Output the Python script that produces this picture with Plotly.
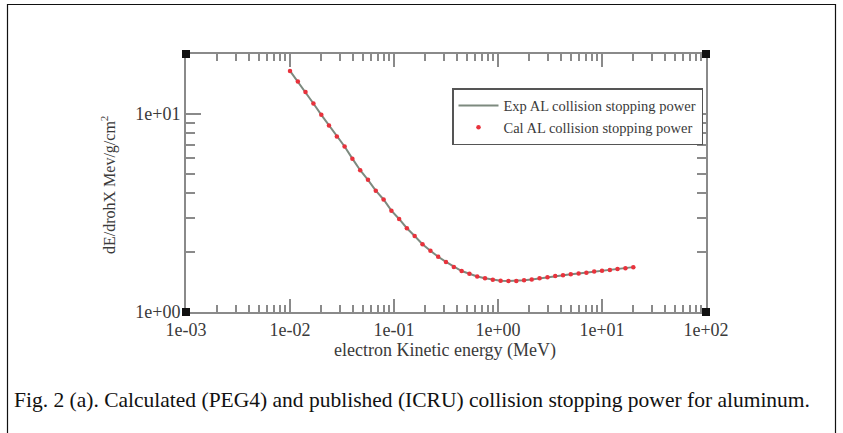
import plotly.graph_objects as go

# ---- data ----
energy_mev = [0.01, 0.0119, 0.0141, 0.0168, 0.02, 0.0237, 0.0282, 0.0335, 0.0398, 0.0473,
              0.0562, 0.0668, 0.0794, 0.0944, 0.112, 0.133, 0.158, 0.188, 0.224, 0.266,
              0.316, 0.376, 0.447, 0.531, 0.631, 0.75, 0.891, 1.06, 1.26, 1.5,
              1.78, 2.11, 2.51, 2.99, 3.55, 4.22, 5.01, 5.96, 7.08, 8.41,
              10.0, 11.9, 14.1, 16.8, 20.0]
exp_power = [16.5, 14.6, 12.9, 11.3, 9.9, 8.75, 7.7, 6.85, 5.95, 5.2,
             4.65, 4.1, 3.7, 3.25, 2.95, 2.65, 2.42, 2.2, 2.04, 1.9,
             1.79, 1.69, 1.61, 1.56, 1.51, 1.48, 1.455, 1.44, 1.435, 1.435,
             1.445, 1.46, 1.48, 1.50, 1.52, 1.535, 1.55, 1.565, 1.58, 1.60,
             1.615, 1.63, 1.65, 1.665, 1.685]
cal_power = [16.5, 14.6, 12.9, 11.3, 9.9, 8.75, 7.7, 6.85, 5.95, 5.2,
             4.65, 4.1, 3.7, 3.25, 2.95, 2.65, 2.42, 2.2, 2.04, 1.9,
             1.79, 1.69, 1.61, 1.56, 1.51, 1.48, 1.455, 1.44, 1.435, 1.435,
             1.445, 1.46, 1.48, 1.50, 1.52, 1.535, 1.55, 1.565, 1.58, 1.60,
             1.615, 1.63, 1.65, 1.665, 1.685]

x_tick_vals = [1e-3, 1e-2, 1e-1, 1e0, 1e1, 1e2]
x_tick_text = ["1e-03", "1e-02", "1e-01", "1e+00", "1e+01", "1e+02"]
y_tick_vals = [1, 10]
y_tick_text = ["1e+00", "1e+01"]

series_names = ["Exp AL collision stopping power", "Cal AL collision stopping power"]
x_title = "electron Kinetic energy (MeV)"
y_title = "dE/drohX Mev/g/cm<sup>2</sup>"
caption = "Fig. 2 (a). Calculated (PEG4) and published (ICRU) collision stopping power for aluminum."

# ---- figure ----
W, H = 843, 433
L, R, T, B = 186, 706, 54, 312  # plot area in pixels
pw, ph = R - L, B - T


def px(x):
    return (x - L) / pw


def py(y):
    return (B - y) / ph


SERIF = "Liberation Serif, Times New Roman, serif"
TXT = "#3a3a3a"
AX = "#8a8a8a"

fig = go.Figure()
fig.add_trace(go.Scatter(x=energy_mev, y=exp_power, mode="lines", name=series_names[0],
                         line=dict(color="#7d8a7f", width=2)))
fig.add_trace(go.Scatter(x=energy_mev, y=cal_power, mode="markers", name=series_names[1],
                         marker=dict(color="#e8323c", size=4.5)))

axis_common = dict(type="log", showgrid=False, zeroline=False, showline=True,
                   linecolor=AX, linewidth=2, mirror="allticks", ticks="inside",
                   tickcolor=AX, tickwidth=2,
                   tickfont=dict(family=SERIF, size=18, color=TXT))

fig.update_xaxes(range=[-3, 2], tickvals=x_tick_vals, ticktext=x_tick_text, ticklen=13,
                 minor=dict(ticks="inside", ticklen=7, tickcolor=AX, tickwidth=1.5, dtick="D1"),
                 **axis_common)
fig.update_yaxes(range=[0, 1.303], tickvals=y_tick_vals, ticktext=y_tick_text, ticklen=15,
                 minor=dict(ticks="inside", ticklen=9, tickcolor=AX, tickwidth=1.5, dtick="D1"),
                 **axis_common)

shapes = [
    # outer border of the figure
    dict(type="rect", xref="paper", yref="paper", x0=px(7.5), x1=px(835.5), y0=py(445), y1=py(4.5),
         line=dict(color="#111111", width=1.2), fillcolor="rgba(0,0,0,0)", layer="above"),
]
for cx, cy in [(0, 0), (1, 0), (0, 1), (1, 1)]:
    shapes.append(dict(type="rect", xref="paper", yref="paper", xsizemode="pixel", ysizemode="pixel",
                       xanchor=cx, yanchor=cy, x0=-4, x1=4, y0=-4, y1=4,
                       fillcolor="#111111", line=dict(width=0), layer="above"))

annotations = [
    dict(text=x_title, xref="paper", yref="paper", x=px(445), y=py(350), showarrow=False,
         xanchor="center", yanchor="middle", font=dict(family=SERIF, size=18, color=TXT)),
    dict(text=y_title, xref="paper", yref="paper", x=px(108), y=py(185), showarrow=False,
         textangle=-90, xanchor="center", yanchor="middle", font=dict(family=SERIF, size=16, color=TXT)),
    dict(text=caption, xref="paper", yref="paper", x=px(12), y=py(400), showarrow=False,
         xanchor="left", yanchor="middle", font=dict(family=SERIF, size=21.5, color="#111111")),
]

fig.update_layout(
    width=W, height=H,
    margin=dict(l=L, r=W - R, t=T, b=H - B, pad=0),
    paper_bgcolor="white", plot_bgcolor="white",
    showlegend=True,
    legend=dict(x=px(703), y=py(88), xanchor="right", yanchor="top",
                bgcolor="white", bordercolor="#555555", borderwidth=1.5,
                font=dict(family=SERIF, size=14.5, color=TXT), itemwidth=40,
                tracegroupgap=0),
    shapes=shapes,
    annotations=annotations,
)

fig.write_html("out.html")
